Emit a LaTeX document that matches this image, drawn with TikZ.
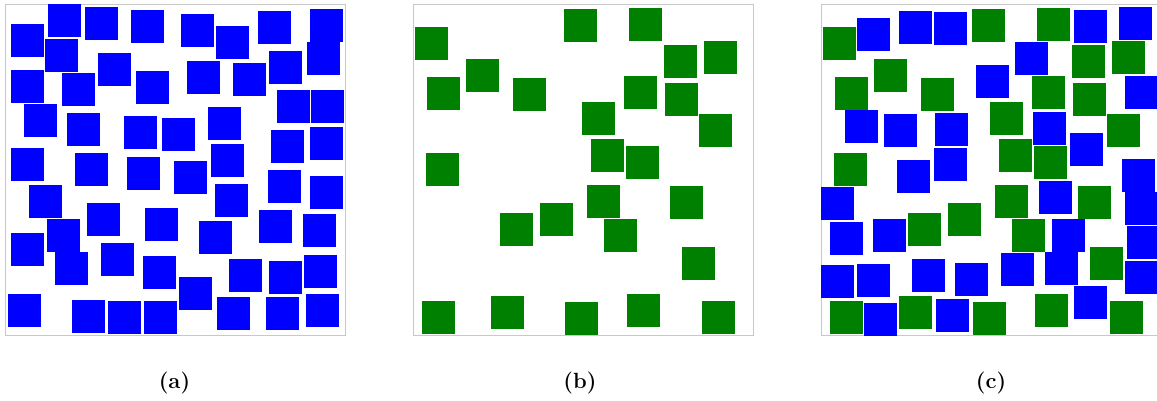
\documentclass[tikz,border=0pt]{standalone}
\usepackage{tikz}

\definecolor{sqgreen}{RGB}{0,128,0}
\definecolor{framegray}{RGB}{200,200,200}

\tikzset{
  panelframe/.style={draw=framegray, line width=1pt},
  bluesq/.style={fill=blue},
  greensq/.style={fill=sqgreen},
  lbl/.style={font=\fontsize{22}{26}\selectfont\bfseries}
}

\newcommand{\greenset}{564/9.3, 629/8, 415.3/27, 664/45, 704/40.7, 466/59, 426.7/77,
  513.3/78.3, 624.3/76.3, 664.7/83, 581.7/102.3, 699.3/114.3, 591/139, 626/146,
  425.7/153, 587/185, 670.3/185.7, 540/202.7, 500/213, 603.7/219.3, 681.7/247,
  421.7/300.7, 491.3/296, 565/302, 627/294, 702/300.7}

\begin{document}
\begin{tikzpicture}[x=1pt, y=-1pt]
\useasboundingbox (0,0) rectangle (1157,400);

\draw[panelframe] (5.3,4.3) rectangle (345.5,335.8);
\draw[panelframe] (413.3,4.3) rectangle (753.5,335.8);
\draw[panelframe] (821.3,4.3) rectangle (1161.5,335.8);

% panel a
\foreach \x/\y in {11/24, 48/4.3, 85/6.7, 130.7/9.7, 180.7/13.7, 216/25.7, 258/11,
  310/8.7, 45.3/38.7, 97.7/52.7, 11.3/69.7, 62.3/73, 135.7/71.3, 187/60.7,
  233/63.3, 269/51.3, 307/42.3, 276.7/90.3, 311/90.3, 23.7/104, 67.3/113,
  124/116, 162.3/118.3, 208.3/107.3, 271.3/130, 310/127.3, 11.3/148, 75.3/153,
  127/157, 174/161, 211/144.3, 268/170, 310/176, 29/185, 214.7/184.3,
  87.3/202.7, 144.7/208.3, 47.3/218.7, 259.3/210, 302.7/214, 199/221,
  11/232.7, 101/243, 55/252.3, 143/256, 229.3/259.3, 268.7/261, 304.3/255,
  179/277, 8/294, 72.3/300, 108/301.3, 143.7/301.3, 217.3/296.7, 266/297.3,
  305.7/294}
  \fill[bluesq] (\x,\y) rectangle ++(33,33);

% panel b
\foreach \x/\y in \greenset
  \fill[greensq] (\x,\y) rectangle ++(33,33);

% panel c
\foreach \x/\y in {857.3/17.7, 899/10.7, 934/11.7, 1074.3/9.7, 1119/6.7,
  1014.7/42, 976/64.7, 1125.3/76, 844.7/110.3, 884/114.3, 935.3/112.7,
  1033/111.7, 1070.3/133.3, 896.7/160, 934/148.3, 1122/159, 821/187,
  1124.7/192.3, 1039/180.7, 829.7/222.3, 873/219, 1051.7/218.7, 1126.7/226.3,
  821/264.7, 857.3/264, 912/258.7, 955/263.3, 1001/252.7, 1045.3/252.3,
  1125/260.7, 864/302.7, 936/298.7, 1074/286.3}
  \fill[bluesq] (\x,\y) rectangle ++(33,33);
\foreach \x/\y in \greenset
  \fill[greensq, xshift=408pt] (\x,\y) rectangle ++(33,33);

\node[lbl] (la) at (174.5,383) {(a)};
\node[lbl] (lb) at (580,383) {(b)};
\node[lbl] (lc) at (991,383) {(c)};

\end{tikzpicture}
\end{document}
